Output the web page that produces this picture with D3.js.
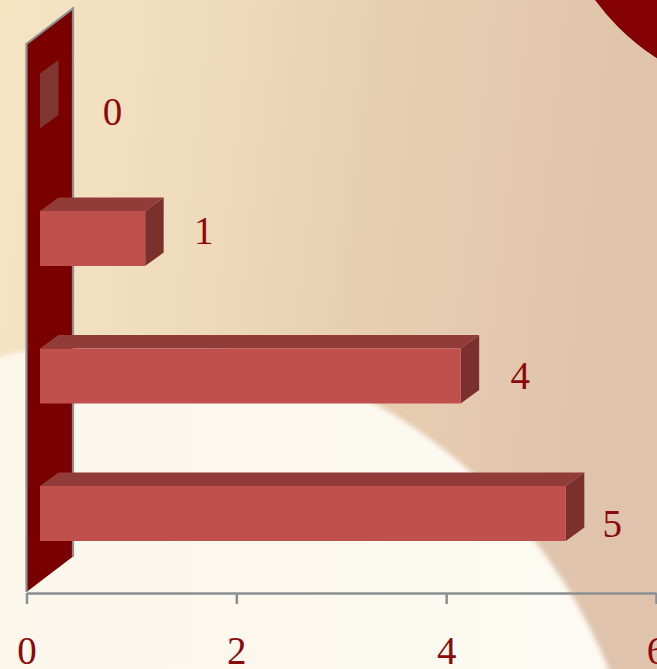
<!DOCTYPE html>
<html>
<head>
<meta charset="utf-8">
<style>html,body{margin:0;padding:0;background:#fff;overflow:hidden}svg{display:block}</style>
<script src="https://cdn.jsdelivr.net/npm/d3@7/dist/d3.min.js"></script>
</head>
<body>
<div id="chart"></div>
<script>
const categories = ["A", "B", "C", "D"];
const values = [0, 1, 4, 5];
const xTicks = [0, 2, 4, 6];
const labelNudgeX = [14, 0, 1, -12];
const labelNudgeY = [11, -8, 0, 10];

const W = 657, H = 669;
const svg = d3.select("#chart").append("svg").attr("width", W).attr("height", H);
const defs = svg.append("defs");
function grad(id, stops, x2, y2) {
  const g = defs.append("linearGradient").attr("id", id)
    .attr("x1", 0).attr("y1", 0).attr("x2", x2).attr("y2", y2);
  stops.forEach(s => g.append("stop").attr("offset", s[0]).attr("stop-color", s[1]));
}
grad("bg", [[0, "#f5e5c3"], [0.3, "#efdcbd"], [0.6, "#e7ceb2"], [1, "#dfc3ac"]], 1, 0.12);
grad("pale", [[0, "#fdf5e6"], [1, "#fcfaf3"]], 1, 0);
grad("corner", [[0, "#8a0008"], [1, "#7c0000"]], 1, 1);
defs.append("filter").attr("id", "soft").append("feGaussianBlur").attr("stdDeviation", 2.5);

svg.append("rect").attr("width", W).attr("height", H).attr("fill", "url(#bg)");
svg.append("ellipse").attr("cx", 130).attr("cy", 880).attr("rx", 520).attr("ry", 540)
  .attr("fill", "url(#pale)").attr("filter", "url(#soft)");
svg.append("circle").attr("cx", 785).attr("cy", -140).attr("r", 236)
  .attr("fill", "url(#corner)");

const x = d3.scaleLinear().domain([0, 6]).range([26.5, 656]);
const barX = d3.scaleLinear().domain([0, 6]).range([40, 671]);
const y = d3.scaleBand().domain(categories).range([32.25, 582.25]).paddingInner(0.6).paddingOuter(0.3);
const depthX = 18.5, depthY = 13.5;
const poly = pts => pts.map(p => p.join(",")).join(" ");

// wall
const wallTop = 44, wallBottom = 592, wallW = 46.5, wallH = 35.5;
svg.append("polygon")
  .attr("points", poly([[x(0), wallTop], [x(0) + wallW, wallTop - wallH], [x(0) + wallW, wallBottom - wallH], [x(0), wallBottom]]))
  .attr("fill", "#7a0000");
svg.append("polyline")
  .attr("points", poly([[x(0), wallBottom], [x(0), wallTop], [x(0) + wallW, wallTop - wallH], [x(0) + wallW, wallBottom - wallH]]))
  .attr("fill", "none").attr("stroke", "#8b8f92").attr("stroke-width", 2.2);

// bars
const bars = svg.selectAll("g.bar").data(values).join("g").attr("class", "bar");
bars.each(function (v, i) {
  const g = d3.select(this);
  const x0 = barX(0), x1 = barX(v), top = y(categories[i]), bot = top + y.bandwidth();
  if (v > 0) {
    g.append("polygon")
      .attr("points", poly([[x0, top], [x0 + depthX, top - depthY], [x1 + depthX, top - depthY], [x1, top]]))
      .attr("fill", "#923c3a");
  }
  g.append("polygon")
    .attr("points", poly([[x1, top], [x1 + depthX, top - depthY], [x1 + depthX, bot - depthY], [x1, bot]]))
    .attr("fill", v > 0 ? "#7c302e" : "#7f3633");
  if (v > 0) {
    g.append("rect").attr("x", x0).attr("y", top).attr("width", x1 - x0).attr("height", bot - top)
      .attr("fill", "#c0504d");
  }
  g.append("text")
    .attr("x", x1 + depthX + 40 + labelNudgeX[i])
    .attr("y", (top + bot) / 2 + labelNudgeY[i] + 13)
    .attr("text-anchor", "middle")
    .attr("font-family", "'Liberation Serif', serif").attr("font-size", 39)
    .attr("fill", "#8b0a0a").text(v);
});

// x axis
const axis = svg.append("g").attr("transform", "translate(0,593)")
  .call(d3.axisBottom(x).tickValues(xTicks).tickSize(11).tickSizeOuter(0).tickPadding(32).tickFormat(d3.format("d")));
axis.select(".domain").attr("stroke", "#8b8f92").attr("stroke-width", 2.5);
axis.selectAll(".tick line").attr("stroke", "#8b8f92").attr("stroke-width", 2.5);
axis.selectAll(".tick text")
  .attr("font-family", "'Liberation Serif', serif").attr("font-size", 39)
  .attr("fill", "#8b0a0a");
</script>
</body>
</html>
